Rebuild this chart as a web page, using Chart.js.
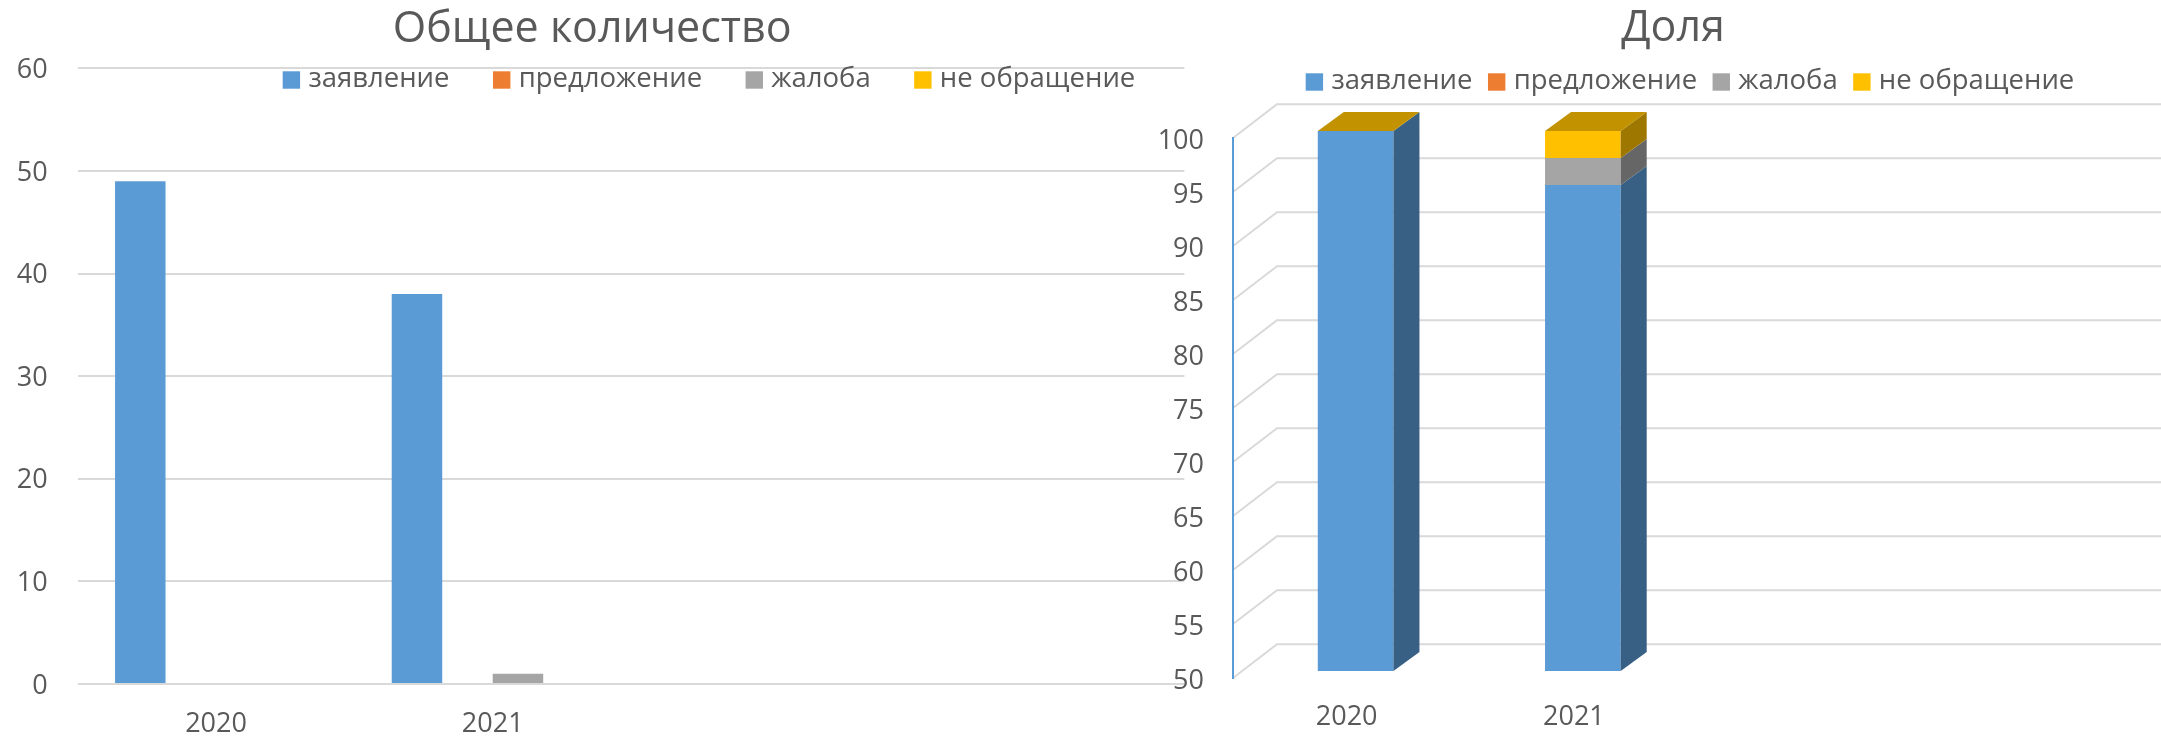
<!DOCTYPE html>
<html><head><meta charset="utf-8">
<script src="https://cdn.jsdelivr.net/npm/chart.js@4/dist/chart.umd.min.js"></script>
<style>
html,body{margin:0;padding:0;background:#fff;}
body{width:2161px;height:736px;position:relative;overflow:hidden;}
#c1{position:absolute;left:0;top:0;}
#c2{position:absolute;left:1140px;top:0;}
</style></head><body>
<canvas id="c1" width="1190" height="736"></canvas>
<canvas id="c2" width="1021" height="736"></canvas>
<script>
// ---- data ----
const categories = ['2020', '2021', '', ''];
const seriesNames = ['заявление', 'предложение', 'жалоба', 'не обращение'];
const seriesColors = ['#5B9BD5', '#ED7D31', '#A5A5A5', '#FFC000'];

const countZayavlenie     = [49, 38, null, null];
const countPredlozhenie   = [0, 0, null, null];
const countZhaloba        = [0, 1, null, null];
const countNeObrashchenie = [0, 0, null, null];

const shareZayavlenie     = [100, 95, null, null];
const sharePredlozhenie   = [0, 0, null, null];
const shareZhaloba        = [0, 2.5, null, null];
const shareNeObrashchenie = [0, 2.5, null, null];

const countAxis = { min: 0, max: 60, step: 10 };
const shareAxis = { min: 50, max: 100, step: 5 };

const titleCount = 'Общее количество';
const titleShare = 'Доля';

// ---- styling ----
const FONT = 'Open Sans';
const TEXT = '#595959';
const GRID = '#D9D9D9';

function shade(hex, f) {
  const n = parseInt(hex.slice(1), 16);
  const r = Math.round(((n >> 16) & 255) * f), g = Math.round(((n >> 8) & 255) * f), b = Math.round((n & 255) * f);
  return 'rgb(' + r + ',' + g + ',' + b + ')';
}

const overlayLegend = {
  id: 'overlayLegend',
  afterDraw(chart, args, o) {
    const ctx = chart.ctx;
    ctx.save();
    if (o.title) {
      ctx.font = o.title.size + 'px "' + FONT + '"';
      ctx.textBaseline = 'middle';
      ctx.textAlign = 'center';
      ctx.fillStyle = TEXT;
      ctx.fillText(o.title.text, o.title.center, o.title.y);
    }
    ctx.font = o.size + 'px "' + FONT + '"';
    ctx.textBaseline = 'middle';
    ctx.textAlign = 'left';
    const ds = chart.data.datasets;
    let total = 0;
    ds.forEach((d, i) => {
      total += o.box + o.boxGap + ctx.measureText(d.label).width;
      if (i < ds.length - 1) total += o.itemGap;
    });
    let x = o.center - total / 2;
    ds.forEach(d => {
      ctx.fillStyle = d.backgroundColor;
      ctx.fillRect(x, o.y - o.box / 2, o.box, o.box);
      x += o.box + o.boxGap;
      ctx.fillStyle = TEXT;
      ctx.fillText(d.label, x, o.y + o.textDy);
      x += ctx.measureText(d.label).width + o.itemGap;
    });
    ctx.restore();
  }
};

const bars3d = {
  id: 'bars3d',
  beforeDraw(chart, args, o) {
    if (!o.enabled) return;
    const ctx = chart.ctx, ca = chart.chartArea, ys = chart.scales.y;
    ctx.save();
    ctx.strokeStyle = GRID;
    ctx.lineWidth = 2;
    ys.ticks.forEach(t => {
      const y = ys.getPixelForValue(t.value);
      ctx.beginPath();
      ctx.moveTo(ca.left, y);
      ctx.lineTo(ca.left + o.wallDx, y - o.wallDy);
      ctx.lineTo(chart.width, y - o.wallDy);
      ctx.stroke();
    });
    ctx.restore();
  },
  beforeDatasetsDraw(chart, args, o) {
    if (!o.enabled) return;
    chart.ctx.save();
    chart.ctx.translate(o.shiftX, o.shiftY);
  },
  afterDatasetsDraw(chart, args, o) {
    if (!o.enabled) return;
    const ctx = chart.ctx, ys = chart.scales.y;
    const n = chart.data.labels.length;
    for (let i = 0; i < n; i++) {
      let topY = null, x0 = 0, x1 = 0, topColor = null;
      chart.data.datasets.forEach((d, di) => {
        if (d.data[i] == null) return;
        const el = chart.getDatasetMeta(di).data[i];
        if (!el) return;
        const p = el.getProps(['x', 'y', 'base', 'width'], true);
        const yb = Math.min(Math.max(p.base, p.y), ys.bottom);
        const yt = Math.min(Math.min(p.base, p.y), ys.bottom);
        x0 = p.x - p.width / 2; x1 = p.x + p.width / 2;
        if (yb - yt > 0.01) {
          ctx.beginPath();
          ctx.moveTo(x1, yt);
          ctx.lineTo(x1 + o.dx, yt - o.dy);
          ctx.lineTo(x1 + o.dx, yb - o.dy);
          ctx.lineTo(x1, yb);
          ctx.closePath();
          ctx.fillStyle = shade(d.backgroundColor, 0.62);
          ctx.fill();
        }
        topY = yt; topColor = d.backgroundColor;
      });
      if (topY != null) {
        ctx.beginPath();
        ctx.moveTo(x0, topY);
        ctx.lineTo(x0 + o.dx, topY - o.dy);
        ctx.lineTo(x1 + o.dx, topY - o.dy);
        ctx.lineTo(x1, topY);
        ctx.closePath();
        ctx.fillStyle = shade(topColor, 0.76);
        ctx.fill();
      }
    }
    ctx.restore();
  }
};

function makeSets(arrays) {
  return arrays.map((arr, i) => ({
    label: seriesNames[i],
    data: arr,
    backgroundColor: seriesColors[i],
    borderWidth: 0,
    clip: 0
  }));
}

const tickFont = { family: FONT, size: 27 };

// ---- left chart ----
new Chart(document.getElementById('c1'), {
  type: 'bar',
  data: {
    labels: categories,
    datasets: makeSets([countZayavlenie, countPredlozhenie, countZhaloba, countNeObrashchenie])
  },
  options: {
    responsive: false,
    animation: false,
    devicePixelRatio: 1,
    layout: { padding: { left: 0, right: 5.6, top: 0, bottom: 0 } },
    datasets: { bar: { categoryPercentage: 0.73, barPercentage: 1.0 } },
    plugins: {
      legend: { display: false },
      tooltip: { enabled: false },
      title: {
        display: true, text: titleCount, color: TEXT,
        font: { family: FONT, size: 43, weight: 'normal' },
        padding: { top: 3.5, bottom: 13.2 }
      },
      overlayLegend: { center: 709, y: 80, box: 17.4, boxGap: 8.3, itemGap: 43.5, size: 27.5, textDy: -0.5 },
      bars3d: { enabled: false }
    },
    scales: {
      x: {
        grid: { display: false, drawTicks: false },
        border: { display: false },
        ticks: { color: TEXT, font: tickFont, padding: 23.8, maxRotation: 0, autoSkip: false },
        afterFit: s => { s.height = 52; }
      },
      y: {
        min: countAxis.min, max: countAxis.max,
        grid: { color: GRID, lineWidth: 2, drawTicks: false },
        border: { display: false },
        ticks: { stepSize: countAxis.step, color: TEXT, font: tickFont, padding: 30, labelOffset: 2 },
        afterFit: s => { s.width = 77.7; }
      }
    }
  },
  plugins: [overlayLegend, bars3d]
});

// ---- right chart (3D stacked) ----
new Chart(document.getElementById('c2'), {
  type: 'bar',
  data: {
    labels: categories,
    datasets: makeSets([shareZayavlenie, sharePredlozhenie, shareZhaloba, shareNeObrashchenie])
  },
  options: {
    responsive: false,
    animation: false,
    devicePixelRatio: 1,
    layout: { padding: { left: 0, right: 19, top: 138, bottom: 0 } },
    datasets: { bar: { categoryPercentage: 1.0, barPercentage: 0.333 } },
    plugins: {
      legend: { display: false },
      tooltip: { enabled: false },
      title: { display: false },
      overlayLegend: {
        title: { text: titleShare, size: 43, center: 533, y: 29.2 },
        center: 550, y: 82, box: 17.4, boxGap: 8.3, itemGap: 15.5, size: 27.5, textDy: -0.5
      },
      bars3d: { enabled: true, wallDx: 44, wallDy: 33.7, shiftX: 9, shiftY: -7, dx: 26, dy: 19 }
    },
    scales: {
      x: {
        stacked: true,
        grid: { display: false, drawTicks: false },
        border: { display: false },
        ticks: { color: TEXT, font: tickFont, padding: 22.8, maxRotation: 0, autoSkip: false },
        afterFit: s => { s.height = 58; }
      },
      y: {
        stacked: true,
        min: shareAxis.min, max: shareAxis.max,
        grid: { display: false, drawTicks: false },
        border: { display: true, color: '#5B9BD5', width: 2 },
        ticks: { stepSize: shareAxis.step, color: TEXT, font: tickFont, padding: 29, labelOffset: 3 },
        afterFit: s => { s.width = 93; }
      }
    }
  },
  plugins: [overlayLegend, bars3d]
});
</script>
</body></html>
